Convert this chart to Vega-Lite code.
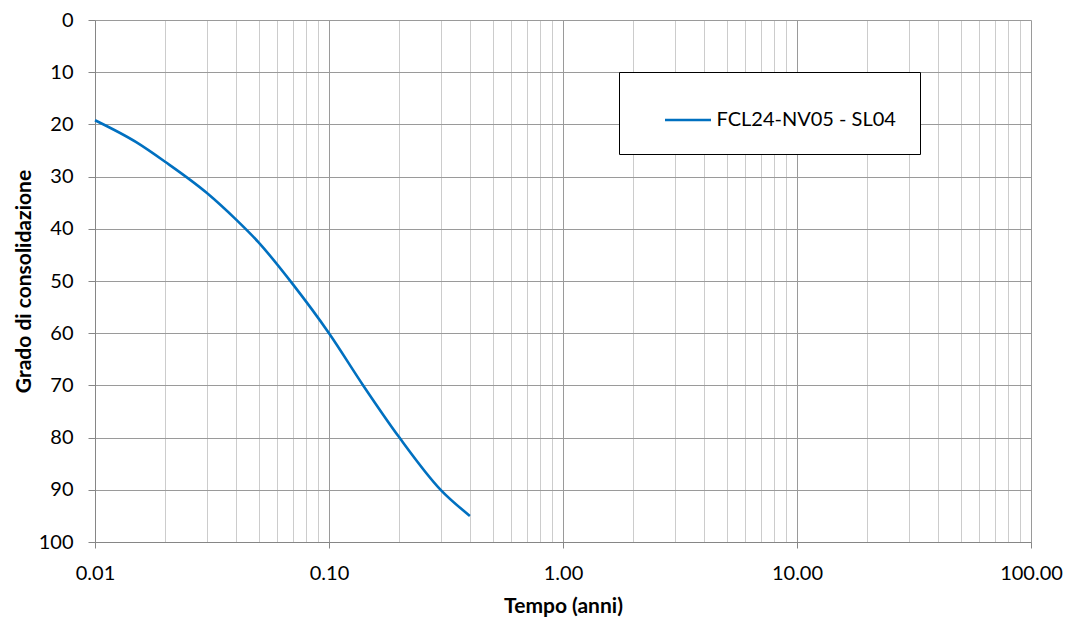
{
  "$schema": "https://vega.github.io/schema/vega-lite/v6.json",
  "width": 936,
  "height": 522,
  "autosize": {"type": "none"},
  "padding": {"left": 95, "top": 20, "right": 36, "bottom": 76},
  "background": "white",
  "config": {
    "view": {"stroke": null},
    "font": "Lato",
    "axis": {"labelFont": "Lato", "titleFont": "Lato"},
    "legend": {"labelFont": "Lato"}
  },
  "data": {
    "values": [
      {"t": 0.01, "u": 19.2, "serie": "FCL24-NV05 - SL04"},
      {"t": 0.015, "u": 23.4, "serie": "FCL24-NV05 - SL04"},
      {"t": 0.02, "u": 27.2, "serie": "FCL24-NV05 - SL04"},
      {"t": 0.03, "u": 33.1, "serie": "FCL24-NV05 - SL04"},
      {"t": 0.04, "u": 38.2, "serie": "FCL24-NV05 - SL04"},
      {"t": 0.05, "u": 42.6, "serie": "FCL24-NV05 - SL04"},
      {"t": 0.07, "u": 50.6, "serie": "FCL24-NV05 - SL04"},
      {"t": 0.1, "u": 60.0, "serie": "FCL24-NV05 - SL04"},
      {"t": 0.14, "u": 70.0, "serie": "FCL24-NV05 - SL04"},
      {"t": 0.2, "u": 80.0, "serie": "FCL24-NV05 - SL04"},
      {"t": 0.3, "u": 90.0, "serie": "FCL24-NV05 - SL04"},
      {"t": 0.4, "u": 95.0, "serie": "FCL24-NV05 - SL04"}
    ]
  },
  "mark": {"type": "line", "strokeWidth": 2.6, "interpolate": "monotone"},
  "encoding": {
    "x": {
      "field": "t",
      "type": "quantitative",
      "scale": {"type": "log", "domain": [0.01, 100], "nice": false},
      "axis": {
        "title": "Tempo (anni)",
        "titleFontSize": 21,
        "titleFontWeight": "bold",
        "titleColor": "black",
        "titlePadding": 12,
        "values": [0.01,0.02,0.03,0.04,0.05,0.06,0.07,0.08,0.09,0.1,0.2,0.3,0.4,0.5,0.6,0.7,0.8,0.9,1,2,3,4,5,6,7,8,9,10,20,30,40,50,60,70,80,90,100],
        "labelExpr": "abs(log(datum.value)/LN10 - round(log(datum.value)/LN10)) < 0.001 ? format(datum.value, '.2f') : ''",
        "labelFontSize": 20,
        "labelColor": "black",
        "labelPadding": 15,
        "labelFlush": false,
        "labelOverlap": false,
        "domainColor": "#868686",
        "tickSize": 6,
        "tickColor": {"condition": {"test": "abs(log(datum.value)/LN10 - round(log(datum.value)/LN10)) < 0.001", "value": "#868686"}, "value": "transparent"},
        "grid": true,
        "gridColor": {"condition": {"test": "abs(log(datum.value)/LN10 - round(log(datum.value)/LN10)) < 0.001", "value": "#9a9a9a"}, "value": "#cccccc"},
        "gridWidth": 1
      }
    },
    "y": {
      "field": "u",
      "type": "quantitative",
      "scale": {"domain": [0, 100], "reverse": true, "nice": false},
      "axis": {
        "title": "Grado di consolidazione",
        "titleFontSize": 21,
        "titleFontWeight": "bold",
        "titleColor": "black",
        "titlePadding": 4,
        "values": [0,10,20,30,40,50,60,70,80,90,100],
        "labelFontSize": 20,
        "labelColor": "black",
        "labelPadding": 15,
        "labelFlush": false,
        "domainColor": "#868686",
        "tickColor": "#868686",
        "tickSize": 7,
        "grid": true,
        "gridColor": "#9a9a9a"
      }
    },
    "color": {
      "field": "serie",
      "type": "nominal",
      "scale": {"range": ["#0070C0"]},
      "legend": {
        "title": null,
        "orient": "none",
        "legendX": 524,
        "legendY": 52,
        "padding": 23.5,
        "strokeColor": "black",
        "fillColor": "white",
        "symbolType": "stroke",
        "symbolSize": 2116,
        "symbolStrokeWidth": 2.6,
        "symbolOffset": 21,
        "labelFontSize": 20,
        "labelColor": "black",
        "labelOffset": 4,
        "labelLimit": 400
      }
    }
  }
}
